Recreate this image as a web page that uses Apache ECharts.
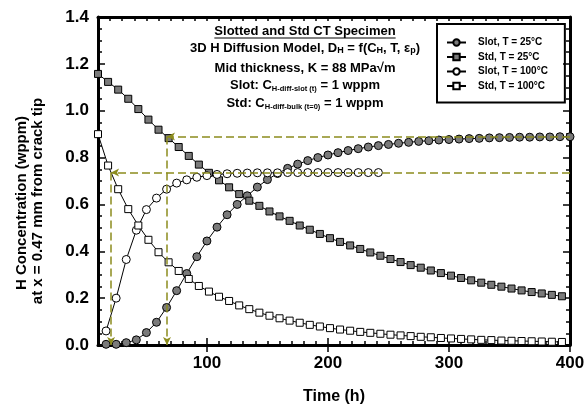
<!DOCTYPE html>
<html><head><meta charset="utf-8">
<script src="https://cdn.jsdelivr.net/npm/echarts@6/dist/echarts.min.js"></script>
<style>html,body{margin:0;padding:0;background:#fff}#c{width:588px;height:407px}</style>
</head><body><div id="c"></div>
<script>
// ---- data ----
const stdTimes = [10, 18.33, 26.67, 35, 43.33, 51.67, 60, 68.33, 76.67, 85, 93.33, 101.67, 110, 118.33, 126.67, 135, 143.33, 151.67, 160, 168.33, 176.67, 185, 193.33, 201.67, 210, 218.33, 226.67, 235, 243.33, 251.67, 260, 268.33, 276.67, 285, 293.33, 301.67, 310, 318.33, 326.67, 335, 343.33, 351.67, 360, 368.33, 376.67, 385, 393.33];
const slotTimes = [16.67, 25, 33.33, 41.67, 50, 58.33, 66.67, 75, 83.33, 91.67, 100, 108.33, 116.67, 125, 133.33, 141.67, 150, 158.33, 166.67, 175, 183.33, 191.67, 200, 208.33, 216.67, 225, 233.33, 241.67, 250, 258.33, 266.67, 275, 283.33, 291.67, 300, 308.33, 316.67, 325, 333.33, 341.67, 350, 358.33, 366.67, 375, 383.33, 391.67, 400];
const slot25 = [0.003,0.003,0.010,0.022,0.053,0.097,0.160,0.232,0.305,0.377,0.444,0.503,0.556,0.600,0.637,0.674,0.706,0.732,0.754,0.772,0.787,0.800,0.811,0.821,0.830,0.838,0.845,0.851,0.856,0.861,0.865,0.869,0.872,0.875,0.877,0.879,0.881,0.882,0.884,0.885,0.886,0.887,0.887,0.888,0.888,0.889,0.889];
const std25 = [1.157,1.123,1.090,1.051,1.007,0.962,0.919,0.883,0.845,0.807,0.770,0.735,0.703,0.673,0.644,0.616,0.594,0.570,0.549,0.530,0.510,0.492,0.474,0.456,0.440,0.425,0.410,0.395,0.381,0.367,0.354,0.341,0.330,0.318,0.307,0.296,0.286,0.276,0.266,0.257,0.249,0.241,0.233,0.226,0.220,0.214,0.208];
const slot100 = [0.06,0.20,0.365,0.49,0.578,0.627,0.665,0.691,0.705,0.716,0.723,0.728,0.731,0.733,0.734,0.735,0.735,0.735,0.736,0.736,0.736,0.736,0.736,0.736,0.736,0.736,0.736,0.736];
const std100 = [0.900,0.766,0.665,0.580,0.510,0.449,0.396,0.353,0.316,0.282,0.252,0.228,0.206,0.188,0.169,0.153,0.138,0.125,0.114,0.104,0.095,0.086,0.079,0.072,0.066,0.061,0.056,0.052,0.048,0.044,0.041,0.038,0.035,0.033,0.030,0.028,0.026,0.024,0.022,0.021,0.019,0.018,0.017,0.016,0.015,0.014,0.013];
const seriesNames = ['Slot, T = 25°C', 'Std, T = 25°C', 'Slot, T = 100°C', 'Std, T = 100°C'];
const refTimes = [20.8, 67];      // dashed vertical guides (h)
const refLevels = [0.736, 0.89];  // dashed horizontal guides (wppm)
const xMajorTicks = [100, 200, 300, 400];
const yMajorTicks = [0, 0.2, 0.4, 0.6, 0.8, 1.0, 1.2, 1.4];

// ---- chart ----
const FONT = '"Liberation Sans", Arial, sans-serif';
const chart = echarts.init(document.getElementById('c'), null, {renderer: 'canvas'});
const pairs = (ts, vs) => vs.map((v, i) => [ts[i], v]);
function mk(name, ts, vs, symbol, fill, size) {
  return {
    name, type: 'line', data: pairs(ts, vs), symbol, symbolSize: size, showSymbol: true,
    lineStyle: {color: '#000', width: 1}, itemStyle: {color: fill, borderColor: '#000', borderWidth: 1},
    z: 3, animation: false
  };
}
const OLIVE = '#8c8c1e';
const axCommonX = {type: 'value', min: 10, max: 400, splitLine: {show: false}};
const axCommonY = {type: 'value', min: 0, max: 1.4, splitLine: {show: false}};
const tickStyle = {color: '#000', width: 1.5};
const lineAx = {show: true, onZero: false, lineStyle: {color: '#000', width: 3}};

const option = {
  backgroundColor: '#fff',
  animation: false,
  grid: {left: 98, right: 18, top: 17, bottom: 62, containLabel: false, outerBoundsMode: 'none'},
  xAxis: [
    Object.assign({}, axCommonX, {position: 'bottom', interval: 10, axisLine: lineAx,
      axisTick: {inside: true, length: 4, lineStyle: tickStyle},
      axisLabel: {formatter: v => (xMajorTicks.indexOf(v) >= 0 ? String(v) : ''), fontSize: 17, fontWeight: 'bold', fontFamily: FONT, color: '#000', margin: 10},
      name: 'Time (h)', nameLocation: 'middle', nameGap: 44,
      nameTextStyle: {fontSize: 16, fontWeight: 'bold', fontFamily: FONT, color: '#000'}}),
    Object.assign({}, axCommonX, {position: 'bottom', axisLine: {show: false},
      axisTick: {inside: true, length: 7, lineStyle: tickStyle, customValues: xMajorTicks}, axisLabel: {show: false}}),
    Object.assign({}, axCommonX, {position: 'top', interval: 10, axisLine: lineAx,
      axisTick: {inside: true, length: 4, lineStyle: tickStyle}, axisLabel: {show: false}}),
    Object.assign({}, axCommonX, {position: 'top', axisLine: {show: false},
      axisTick: {inside: true, length: 7, lineStyle: tickStyle, customValues: xMajorTicks}, axisLabel: {show: false}})
  ],
  yAxis: [
    Object.assign({}, axCommonY, {position: 'left', interval: 0.05, axisLine: lineAx,
      axisTick: {inside: true, length: 4, lineStyle: tickStyle},
      axisLabel: {formatter: v => (Math.abs(v / 0.2 - Math.round(v / 0.2)) < 1e-6 ? v.toFixed(1) : ''), fontSize: 17, fontWeight: 'bold', fontFamily: FONT, color: '#000', margin: 9}}),
    Object.assign({}, axCommonY, {position: 'left', axisLine: {show: false},
      axisTick: {inside: true, length: 7, lineStyle: tickStyle, customValues: yMajorTicks}, axisLabel: {show: false}}),
    Object.assign({}, axCommonY, {position: 'right', interval: 0.05, axisLine: lineAx,
      axisTick: {inside: true, length: 4, lineStyle: tickStyle}, axisLabel: {show: false}}),
    Object.assign({}, axCommonY, {position: 'right', axisLine: {show: false},
      axisTick: {inside: true, length: 7, lineStyle: tickStyle, customValues: yMajorTicks}, axisLabel: {show: false}})
  ],
  legend: {
    data: seriesNames, orient: 'vertical', left: 437, top: 24, selectedMode: false,
    itemWidth: 19, itemHeight: 8, itemGap: 1.5, padding: [12, 17, 10, 9],
    borderColor: '#000', borderWidth: 2,
    textStyle: {fontSize: 10, fontWeight: 'bold', fontFamily: FONT, color: '#000', lineHeight: 13, padding: [0, 0, 0, 7]}
  },
  series: [
    {
      type: 'line', data: [], silent: true, z: 1, animation: false,
      markLine: {
        silent: true, animation: false,
        symbol: ['none', 'arrow'], symbolSize: [6, 8],
        label: {show: false},
        lineStyle: {color: OLIVE, width: 1.5, type: [8, 4]},
        data: [
          [{coord: [400, refLevels[0]]}, {coord: [refTimes[0], refLevels[0]]}],
          [{coord: [refTimes[0], refLevels[0]]}, {coord: [refTimes[0], 0]}],
          [{coord: [400, refLevels[1]]}, {coord: [refTimes[1], refLevels[1]]}],
          [{coord: [refTimes[1], refLevels[1]]}, {coord: [refTimes[1], 0]}]
        ]
      }
    },
    mk(seriesNames[0], slotTimes, slot25, 'circle', '#7a7a7a', 8),
    mk(seriesNames[1], stdTimes, std25, 'rect', '#7a7a7a', 7),
    mk(seriesNames[2], slotTimes, slot100, 'circle', '#ffffff', 8),
    mk(seriesNames[3], stdTimes, std100, 'rect', '#ffffff', 7)
  ]
};

// annotation text
const cx = 305;
const titleText = 'Slotted and Std CT Specimen';
const meas = document.createElement('canvas').getContext('2d');
meas.font = 'bold 13px "Liberation Sans", Arial, sans-serif';
const tw = meas.measureText(titleText).width;
const sub = {fontSize: 9, fontWeight: 'bold', fontFamily: FONT, fill: '#000', lineHeight: 9, padding: [6, 0, 0, 0]};
const sub2 = {fontSize: 7.5, fontWeight: 'bold', fontFamily: FONT, fill: '#000', lineHeight: 8, padding: [7, 0, 0, 0]};
function txt(text, y, size, rich) {
  return {type: 'text', x: cx, y: y, z: 10, silent: true,
    style: {text, align: 'center', verticalAlign: 'middle', fontSize: size || 13, fontWeight: 'bold', fontFamily: FONT, fill: '#000', lineHeight: 15, rich: rich || {}}};
}
option.graphic = [
  txt(titleText, 31.5),
  {type: 'line', silent: true, shape: {x1: cx - tw / 2, y1: 38, x2: cx + tw / 2, y2: 38}, style: {stroke: '#000', lineWidth: 1.2}},
  txt('3D H Diffusion Model, D{s|H} = f(C{s|H}, T, ε{s|p})', 48, 13, {s: sub}),
  txt('Mid thickness, K = 88 MPa√m', 68.5),
  txt('Slot: C{t|H-diff-slot (t)} = 1 wppm', 85, 13, {t: sub2}),
  txt('Std: C{t|H-diff-bulk (t=0)} = 1 wppm', 103, 13, {t: sub2}),
  {type: 'text', x: 21.5, y: 203, rotation: Math.PI / 2, silent: true,
    style: {text: 'H Concentration (wppm)', align: 'center', verticalAlign: 'middle', fontSize: 15, fontWeight: 'bold', fontFamily: FONT, fill: '#000'}},
  {type: 'text', x: 37.5, y: 201, rotation: Math.PI / 2, silent: true,
    style: {text: 'at x = 0.47 mm from crack tip', align: 'center', verticalAlign: 'middle', fontSize: 15, fontWeight: 'bold', fontFamily: FONT, fill: '#000'}}
];
chart.setOption(option);
</script>
</body></html>
